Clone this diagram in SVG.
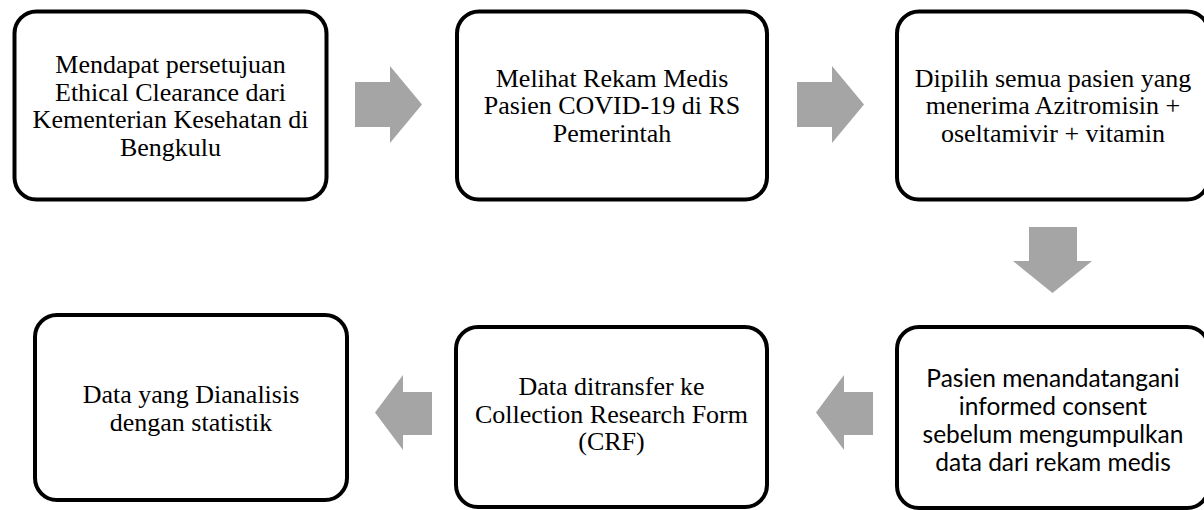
<svg xmlns="http://www.w3.org/2000/svg" width="1204" height="510" viewBox="0 0 1204 510">
<style>
.box{fill:#fff;stroke:#000;stroke-width:4}
.t{font-family:"Liberation Serif","Times New Roman",serif;font-size:26px;fill:#000;text-anchor:middle}
.s{font-family:Lato,"Liberation Sans",sans-serif;font-size:24.5px;fill:#000;text-anchor:middle}
.arr{fill:#a5a5a5}
</style>
<rect width="1204" height="510" fill="#fff"/>
<g id="connectors">
<polygon class="arr" points="355,82 390,82 390,66 422,104.5 390,143 390,127 355,127"/>
<polygon class="arr" points="797,82 832,82 832,66 864,104.5 832,143 832,127 797,127"/>
<polygon class="arr" points="1029,227 1077,227 1077,261 1092,261 1052.5,293 1013,261 1029,261"/>
<polygon class="arr" points="375,412.5 403,375 403,392 432,392 432,435 403,435 403,450"/>
<polygon class="arr" points="816,412.5 844,375 844,392 873,392 873,435 844,435 844,450"/>
</g>
<g id="node1">
<rect class="box" x="14.5" y="11.5" width="312" height="188" rx="22"/>
<text class="t"><tspan x="170.5" y="73">Mendapat persetujuan</tspan><tspan x="170.5" y="100.5">Ethical Clearance dari</tspan><tspan x="170.5" y="128">Kementerian Kesehatan di</tspan><tspan x="170.5" y="155.5">Bengkulu</tspan></text>
</g>
<g id="node2">
<rect class="box" x="457" y="11.5" width="310" height="188" rx="22"/>
<text class="t"><tspan x="612" y="86.5">Melihat Rekam Medis</tspan><tspan x="612" y="114">Pasien COVID-19 di RS</tspan><tspan x="612" y="141.5">Pemerintah</tspan></text>
</g>
<g id="node3">
<rect class="box" x="897" y="11.5" width="312" height="188" rx="22"/>
<text class="t"><tspan x="1053" y="86.5">Dipilih semua pasien yang</tspan><tspan x="1053" y="114">menerima Azitromisin +</tspan><tspan x="1053" y="141.5">oseltamivir + vitamin</tspan></text>
</g>
<g id="node4">
<rect class="box" x="897" y="327" width="312" height="181" rx="22"/>
<text class="s"><tspan x="1053" y="387">Pasien menandatangani</tspan><tspan x="1053" y="415">informed consent</tspan><tspan x="1053" y="443">sebelum mengumpulkan</tspan><tspan x="1053" y="471">data dari rekam medis</tspan></text>
</g>
<g id="node5">
<rect class="box" x="456" y="327" width="311" height="180" rx="22"/>
<text class="t"><tspan x="611.5" y="395">Data ditransfer ke</tspan><tspan x="611.5" y="422.5">Collection Research Form</tspan><tspan x="611.5" y="450">(CRF)</tspan></text>
</g>
<g id="node6">
<rect class="box" x="35" y="315" width="312" height="185" rx="22"/>
<text class="t"><tspan x="191" y="403">Data yang Dianalisis</tspan><tspan x="191" y="430.5">dengan statistik</tspan></text>
</g>
</svg>
